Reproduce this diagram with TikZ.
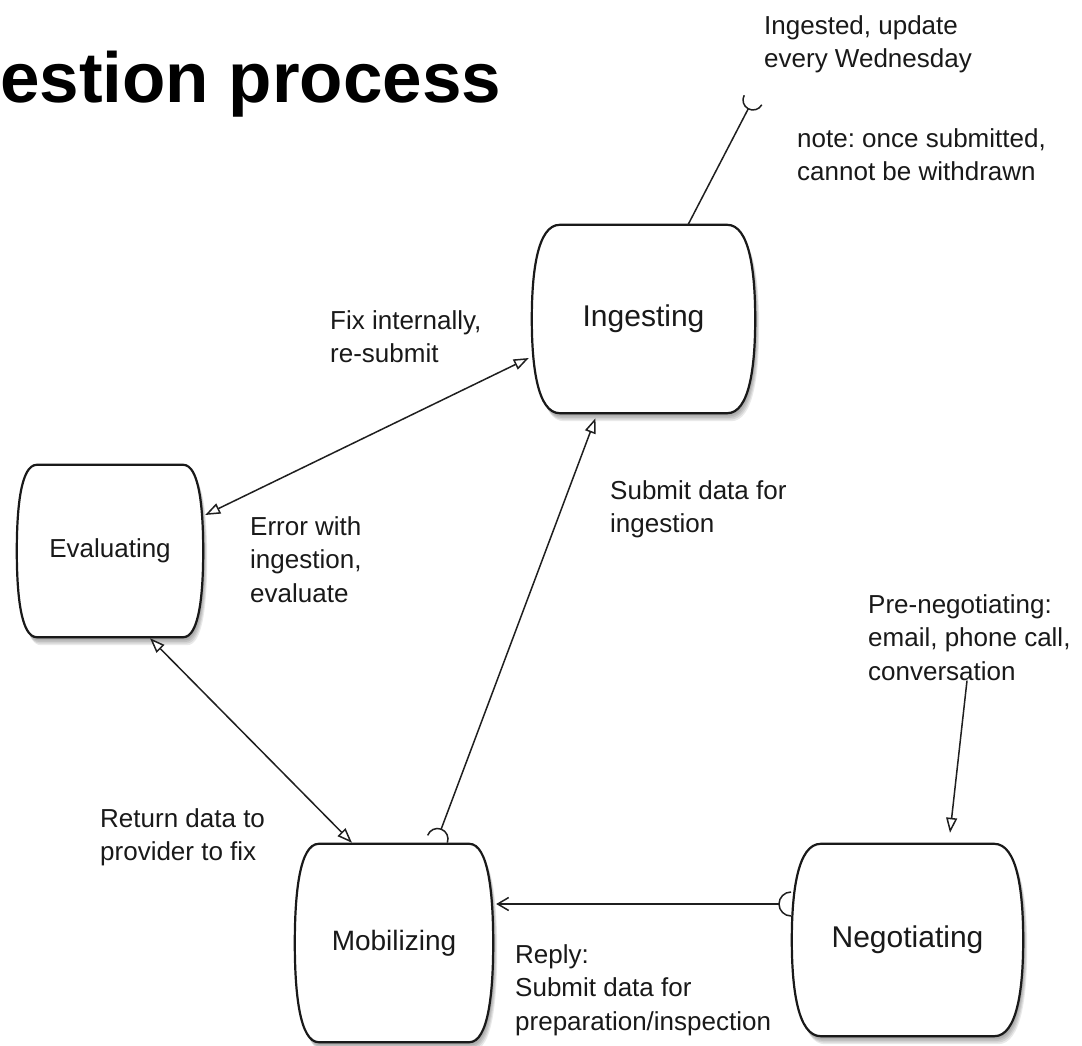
\documentclass[tikz,border=0pt]{standalone}
\usepackage{fontspec}
\setmainfont{Liberation Sans}
\usetikzlibrary{arrows.meta,calc}
\pgfdeclarelayer{bg}
\pgfsetlayers{bg,main}
% barrel outline of a state node: #1 name, #2 corner inset, #3 dx, #4 dy
\newcommand\barrelpath[4]{%
  ($(#1.north west)+(#2+#3,#4)$) -- ($(#1.north east)+(-#2+#3,#4)$)
  .. controls ($(#1.north east)+(-0.2*#2+#3,#4)$) and ($(#1.north east)!0.5!(#1.east)+(#3,#4)$) .. ($(#1.east)+(#3,#4)$)
  .. controls ($(#1.south east)!0.5!(#1.east)+(#3,#4)$) and ($(#1.south east)+(-0.2*#2+#3,#4)$) .. ($(#1.south east)+(-#2+#3,#4)$)
  -- ($(#1.south west)+(#2+#3,#4)$)
  .. controls ($(#1.south west)+(0.2*#2+#3,#4)$) and ($(#1.south west)!0.5!(#1.west)+(#3,#4)$) .. ($(#1.west)+(#3,#4)$)
  .. controls ($(#1.north west)!0.5!(#1.west)+(#3,#4)$) and ($(#1.north west)+(0.2*#2+#3,#4)$) .. ($(#1.north west)+(#2+#3,#4)$) -- cycle}
\tikzset{
  state/.style={rectangle, inner sep=0pt, draw=none, text=black!90},
  lbl/.style={font=\fontsize{26}{33.5}\selectfont\frenchspacing, align=left, anchor=north west, inner sep=0pt, text=black!90},
  conn/.style={line width=1.5pt, draw=black!88},
  >={Triangle[length=15pt,width=11pt,fill=white]},
}
\begin{document}
\begin{tikzpicture}[x=1pt,y=-1pt]
\useasboundingbox (0,0) rectangle (1082,1046);
\begin{pgfonlayer}{bg}
  \fill[white] (0,0) rectangle (1082,1046);
\end{pgfonlayer}

% title
\node[anchor=base west, inner sep=0pt, font=\bfseries\fontsize{71}{85}\selectfont] (title) at (0,103) {estion process};

% states
\node[state, minimum width=223pt, minimum height=188pt, font=\fontsize{30}{36}\selectfont] (ing) at (643.5,319) {Ingesting};
\node[state, minimum width=186pt, minimum height=172pt, font=\fontsize{26}{31}\selectfont] (eva) at (110,551) {Evaluating};
\node[state, minimum width=198pt, minimum height=198pt, font=\fontsize{28}{34}\selectfont] (mob) at (394,943) {Mobilizing};
\node[state, minimum width=231pt, minimum height=192pt, font=\fontsize{30}{36}\selectfont] (neg) at (907.5,940) {Negotiating};

\begin{pgfonlayer}{bg}
  \foreach \n/\a in {ing/28,eva/20,mob/24,neg/29}{
    \foreach \k in {1,...,5}{
      \fill[black,opacity=0.085] \barrelpath{\n}{\a}{0.8*\k}{1.6*\k};
    }
    \filldraw[fill=white, draw=black!90, line width=2.2pt] \barrelpath{\n}{\a}{0}{0};
  }
\end{pgfonlayer}

% labels
\node[lbl] (ingnote) at (764,10.55) {\strut Ingested, update\\every Wednesday};
\node[lbl] (wnote) at (797,123.55) {\strut note: once submitted,\\cannot be withdrawn};
\node[lbl] (fix) at (330,305.55) {\strut Fix internally,\\re-submit};
\node[lbl] (err) at (250,511.55) {\strut Error with\\ingestion,\\evaluate};
\node[lbl] (sub) at (610,475.55) {\strut Submit data for\\ingestion};
\node[lbl] (pre) at (868,589.55) {\strut Pre-negotiating:\\email, phone call,\\conversation};
\node[lbl] (ret) at (100,803.55) {\strut Return data to\\provider to fix};
\node[lbl] (rep) at (515,939.55) {\strut Reply:\\Submit data for\\preparation/inspection};

% connectors
\coordinate (notesock) at (748.24,108.8);
\draw[conn] ($(ing.north)+(44.5,0)$) -- (notesock);
\draw[conn] (744.2,95.24) .. controls (741.57,100.10) and (743.38,106.17) .. (notesock)
  .. controls (753.10,111.43) and (759.17,109.62) .. (761.8,104.76);

\draw[conn,<->] ($(eva.east)+(2,-36)$) -- ($(ing.west)+(-3,39)$);
\draw[conn,<->] ($(eva.south)+(40,1)$) -- ($(mob.north)+(-42,-1)$);

\coordinate (mobsock) at (441.16,829.15);
\draw[conn,->] (mobsock) -- ($(ing.south)+(-48,5)$);
\draw[conn] (427.65,835.34) .. controls (429.67,829.90) and (435.72,827.13) .. (mobsock)
  .. controls (446.60,831.17) and (449.37,837.22) .. (447.35,842.66);

\coordinate (negsock) at (779,904);
\draw[conn,-{Straight Barb[length=11pt,width=13pt]}] (negsock) -- ($(mob.east)+(3,-39)$);
\draw[conn] (791,892) .. controls (784.37,892) and (779,897.37) .. (negsock)
  .. controls (779,910.63) and (784.37,916) .. (791,916);

\draw[conn,->] ($(pre.south west)+(99,0)$) -- ($(neg.north)+(42.5,-11)$);
\end{tikzpicture}
\end{document}
